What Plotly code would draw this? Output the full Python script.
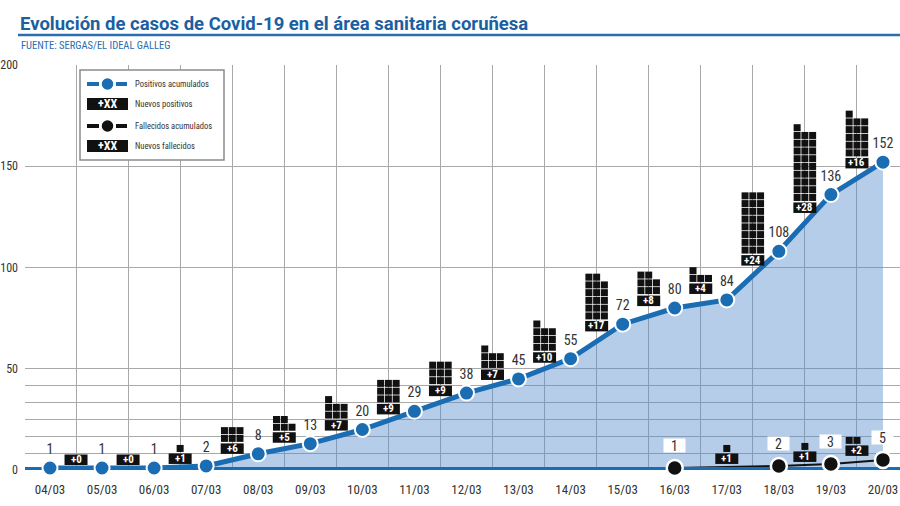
import plotly.graph_objects as go

# ---------------- data ----------------
fechas = ["04/03", "05/03", "06/03", "07/03", "08/03", "09/03", "10/03", "11/03", "12/03",
          "13/03", "14/03", "15/03", "16/03", "17/03", "18/03", "19/03", "20/03"]
positivos = [1, 1, 1, 2, 8, 13, 20, 29, 38, 45, 55, 72, 80, 84, 108, 136, 152]
nuevos_positivos = [0, 0, 1, 6, 5, 7, 9, 9, 7, 10, 17, 8, 4, 24, 28, 16]
fallecidos_fechas = ["16/03", "18/03", "19/03", "20/03"]
fallecidos = [1, 2, 3, 5]
nuevos_fallecidos = [1, 1, 2]
y_ticks = [0, 50, 100, 150, 200]
y_minor = [8.33, 16.67, 25, 33.33, 41.67]

TITLE = "Evolución de casos de Covid-19 en el área sanitaria coruñesa"
SOURCE = "FUENTE: SERGAS/EL IDEAL GALLEG"
LEGEND_ITEMS = ["Positivos acumulados", "Nuevos positivos", "Fallecidos acumulados", "Nuevos fallecidos"]

# ---------------- style ----------------
W, H = 900, 506
ML, MR, MT, MB = 25, 0, 65, 36
PW, PH = W - ML - MR, H - MT - MB
BLUE = "#1a6db3"
DARK = "#111111"
TXT = "#333333"
GRID = "#a9a9a9"
NARROW = "Liberation Sans Narrow, Roboto Condensed, Roboto, sans-serif"
X_RANGE = [-0.48, 16.327]


def PX(p):
    return (p - ML) / PW


def PY(p):
    return (H - MB - p) / PH


xi = list(range(len(fechas)))
dx = [fechas.index(f) for f in fallecidos_fechas]

fig = go.Figure()
fig.add_trace(go.Scatter(x=xi, y=positivos, mode="none", fill="tozeroy",
                         fillcolor="rgba(84,140,203,0.43)", hoverinfo="skip"))
fig.add_trace(go.Scatter(x=dx, y=fallecidos, mode="lines", line=dict(color=DARK, width=2),
                         hoverinfo="skip"))
fig.add_trace(go.Scatter(x=X_RANGE, y=[0, 0], mode="lines", line=dict(color=BLUE, width=6),
                         hoverinfo="skip"))
fig.add_trace(go.Scatter(x=xi, y=positivos, mode="lines+markers+text",
                         text=[str(v) for v in positivos], textposition="top center",
                         textfont=dict(family=NARROW, size=14, color=TXT),
                         line=dict(color=BLUE, width=5),
                         marker=dict(size=15, color=BLUE, line=dict(color="white", width=2)),
                         cliponaxis=False))
fig.add_trace(go.Scatter(x=dx, y=fallecidos, mode="markers",
                         marker=dict(size=16, color=DARK, line=dict(color="white", width=2.5)),
                         cliponaxis=False))

shapes = []
annotations = []


def gap_for(m):
    if m < 3:
        return 3
    if m < 60:
        return 6
    return 10


def pictogram(xc, yv, n):
    g = gap_for(yv)
    shapes.append(dict(type="rect", xref="x", yref="y", xsizemode="pixel", ysizemode="pixel",
                       xanchor=xc, yanchor=yv, x0=-11.5, x1=11.5, y0=g, y1=g + 10.5,
                       fillcolor=DARK, line=dict(width=0), layer="above"))
    annotations.append(dict(x=xc, y=yv, yshift=g + 5.5, text="<b>+%d</b>" % n, showarrow=False,
                            font=dict(family=NARROW, size=11, color="white"),
                            xanchor="center", yanchor="middle"))
    base = g + 10.5 + 1.5
    for k in range(n):
        r, c = divmod(k, 3)
        if n == 1:
            c = 1
        x0 = -11.25 + c * 7.75
        y0 = base + r * 7.75
        shapes.append(dict(type="rect", xref="x", yref="y", xsizemode="pixel", ysizemode="pixel",
                           xanchor=xc, yanchor=yv, x0=x0, x1=x0 + 7, y0=y0, y1=y0 + 7,
                           fillcolor=DARK, line=dict(width=0), layer="above"))


for i, n in enumerate(nuevos_positivos):
    pictogram((xi[i] + xi[i + 1]) / 2, (positivos[i] + positivos[i + 1]) / 2, n)
for i, n in enumerate(nuevos_fallecidos):
    pictogram((dx[i] + dx[i + 1]) / 2, (fallecidos[i] + fallecidos[i + 1]) / 2, n)

# death value labels
for x, v in zip(dx, fallecidos):
    annotations.append(dict(x=x, y=v, yshift=22, text=str(v), showarrow=False,
                            font=dict(family=NARROW, size=14, color=TXT),
                            bgcolor="white", width=21, height=13, borderpad=0,
                            xanchor="center", yanchor="middle"))

# title, underline, source
annotations.append(dict(xref="paper", yref="paper", x=PX(18), y=PY(24), text="<b>" + TITLE + "</b>",
                        showarrow=False, xanchor="left", yanchor="middle",
                        font=dict(family="Roboto, sans-serif", size=18.5, color="#1c5fa0")))
annotations.append(dict(xref="paper", yref="paper", x=PX(19), y=PY(45), text=SOURCE,
                        showarrow=False, xanchor="left", yanchor="middle",
                        font=dict(family=NARROW, size=10.5, color="#2a6db0")))
shapes.append(dict(type="line", xref="paper", yref="paper", x0=PX(18), x1=PX(900),
                   y0=PY(35), y1=PY(35), line=dict(color="#2a6db0", width=2.5)))

# legend
shapes.append(dict(type="rect", xref="paper", yref="paper", x0=PX(80), x1=PX(224),
                   y0=PY(160), y1=PY(70), fillcolor="white", line=dict(color="#8c8c8c", width=1.5),
                   layer="above"))
leg_y = [84, 104, 126, 146]
for j, (label, yy) in enumerate(zip(LEGEND_ITEMS, leg_y)):
    col = BLUE if j == 0 else DARK
    if j in (0, 2):
        for a, b in ((87, 99), (116, 127)):
            shapes.append(dict(type="line", xref="paper", yref="paper", x0=PX(a), x1=PX(b),
                               y0=PY(yy), y1=PY(yy), line=dict(color=col, width=4), layer="above"))
        shapes.append(dict(type="circle", xref="paper", yref="paper", x0=PX(101), x1=PX(114),
                           y0=PY(yy + 6.5), y1=PY(yy - 6.5), fillcolor=col,
                           line=dict(color="white", width=1.5), layer="above"))
    else:
        shapes.append(dict(type="rect", xref="paper", yref="paper", x0=PX(87), x1=PX(128),
                           y0=PY(yy + 6), y1=PY(yy - 6), fillcolor=DARK, line=dict(width=0),
                           layer="above"))
        annotations.append(dict(xref="paper", yref="paper", x=PX(107.5), y=PY(yy), text="<b>+XX</b>",
                                showarrow=False, xanchor="center", yanchor="middle",
                                font=dict(family=NARROW, size=12, color="white")))
    annotations.append(dict(xref="paper", yref="paper", x=PX(133), y=PY(yy), text=label,
                            showarrow=False, xanchor="left", yanchor="middle",
                            font=dict(family=NARROW, size=8.5, color=TXT)))

fig.update_layout(
    width=W, height=H, margin=dict(l=ML, r=MR, t=MT, b=MB),
    paper_bgcolor="white", plot_bgcolor="white", showlegend=False,
    shapes=shapes, annotations=annotations,
    xaxis=dict(range=X_RANGE, tickmode="array", tickvals=xi, ticktext=fechas,
               showgrid=False, zeroline=False, showline=False,
               ticks="outside", ticklen=7, tickcolor="rgba(0,0,0,0)",
               tickfont=dict(family=NARROW, size=13, color=TXT),
               minor=dict(tickmode="array", tickvals=[i + 0.5 for i in xi[:-1]],
                          showgrid=True, gridcolor=GRID, gridwidth=1, ticks="")),
    yaxis=dict(range=[0, 200], tickmode="array", tickvals=y_ticks,
               ticktext=[str(v) for v in y_ticks],
               showgrid=True, gridcolor=GRID, gridwidth=1, zeroline=False, showline=False,
               ticks="", ticklabelstandoff=6,
               tickfont=dict(family=NARROW, size=12, color=TXT),
               minor=dict(tickmode="array", tickvals=y_minor, showgrid=True,
                          gridcolor=GRID, gridwidth=1, ticks="")),
)

fig.write_html("out.html")
